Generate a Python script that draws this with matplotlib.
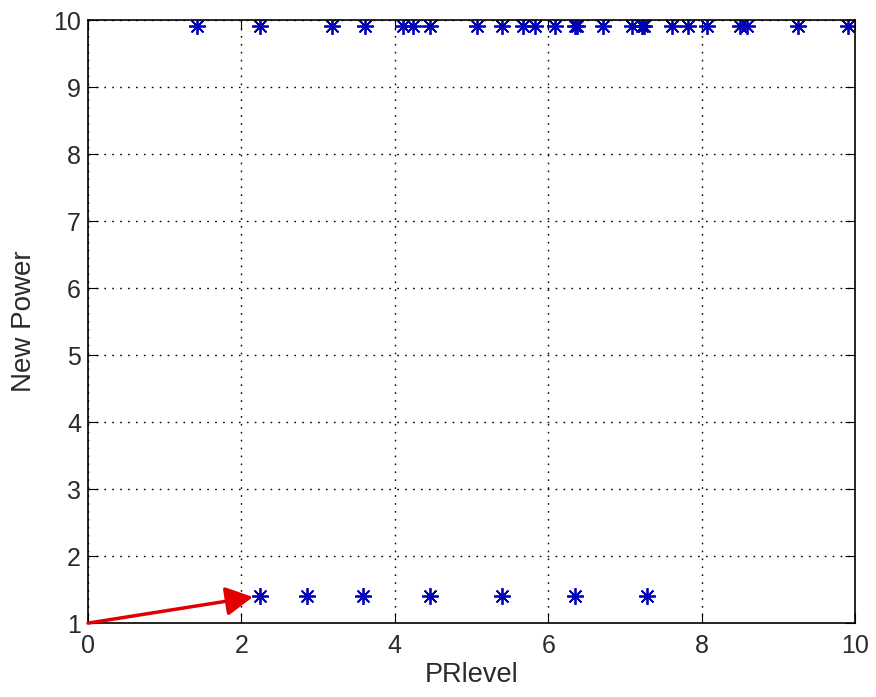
import numpy as np
import matplotlib
matplotlib.use('Agg')
import matplotlib.pyplot as plt

plt.rcParams['font.family'] = ['Liberation Sans', 'DejaVu Sans']

# top row: new power = 9.9
high_x = [1.42, 2.24, 3.18, 3.61, 4.11, 4.24, 4.46, 5.07, 5.40, 5.67, 5.83,
          6.09, 6.35, 6.38, 6.71, 7.09, 7.22, 7.25, 7.61, 7.82, 8.07, 8.50,
          8.59, 9.26, 9.91]
high_y = [9.91] * len(high_x)

# bottom row: new power = 1.4
low_x = [2.24, 2.86, 3.59, 4.46, 5.40, 6.35, 7.29]
low_y = [1.40] * len(low_x)

arrow_start = (0.0, 1.0)
arrow_end = (2.15, 1.39)

fig = plt.figure(figsize=(8.76, 6.97), dpi=100)
ax = fig.add_axes([0.1005, 0.106, 0.8755, 0.865])

star = (8, 2, 0)  # matlab style asterisk
ax.plot(high_x, high_y, linestyle='none', marker=star, color='#0000b4',
        markersize=12, markeredgewidth=1.3)
ax.plot(low_x, low_y, linestyle='none', marker=star, color='#0000b4',
        markersize=12, markeredgewidth=1.3)

ax.annotate('', xy=arrow_end, xytext=arrow_start,
            arrowprops=dict(arrowstyle='-|>,head_length=0.75,head_width=0.4',
                            color='#e00000', lw=2.5,
                            mutation_scale=22, shrinkA=0, shrinkB=0))

ax.set_xlim(0, 10)
ax.set_ylim(1, 10)
ax.set_xticks(np.arange(0, 11, 2))
ax.set_yticks(np.arange(1, 11, 1))
ax.grid(True, linestyle=(0, (1.2, 4.5)), color='black', linewidth=1.0)
ax.tick_params(direction='in', length=7, top=True, right=True, labelsize=18,
               colors='black', labelcolor='#2a2a2a')
ax.tick_params(axis='x', pad=8)
ax.tick_params(axis='y', pad=5)
for s in ax.spines.values():
    s.set_linewidth(1.2)
ax.set_xlabel('PRlevel', fontsize=19.5, color='#2a2a2a', labelpad=3)
ax.set_ylabel('New Power', fontsize=20, color='#2a2a2a', labelpad=12)

fig.savefig('out.png', dpi=100)
